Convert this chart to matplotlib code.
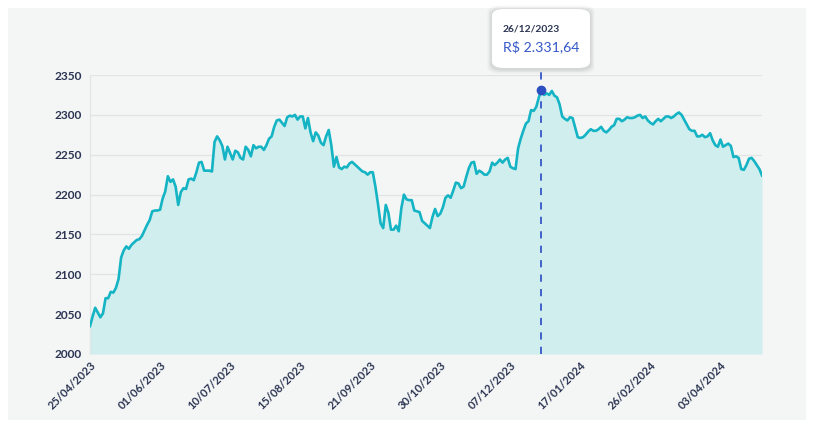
import matplotlib.pyplot as plt
from matplotlib.patches import FancyBboxPatch, Rectangle

# Valores de fechamento (um por pregão)
valores = [
    2035, 2047, 2058, 2052, 2046, 2051, 2070, 2070, 2078, 2077,
    2083, 2094, 2121, 2130, 2135, 2132, 2137, 2140, 2143, 2144,
    2148, 2155, 2162, 2168, 2179, 2180, 2180, 2181, 2195, 2204,
    2223, 2216, 2219, 2210, 2187, 2203, 2208, 2207, 2219, 2220,
    2218, 2228, 2240, 2241, 2230, 2230, 2230, 2229, 2266, 2273,
    2268, 2261, 2244, 2260, 2252, 2244, 2255, 2253, 2246, 2244,
    2260, 2256, 2248, 2262, 2258, 2260, 2260, 2256, 2262, 2270,
    2273, 2285, 2293, 2294, 2290, 2286, 2297, 2299, 2298, 2300,
    2294, 2298, 2298, 2283, 2296, 2278, 2267, 2278, 2274, 2265,
    2262, 2273, 2281, 2262, 2235, 2247, 2234, 2232, 2235, 2234,
    2239, 2241, 2238, 2235, 2232, 2229, 2228, 2225, 2228, 2228,
    2210, 2188, 2164, 2158, 2187, 2177, 2156, 2156, 2161, 2154,
    2183, 2200, 2194, 2193, 2193, 2180, 2179, 2178, 2167, 2164,
    2161, 2158, 2172, 2182, 2173, 2176, 2184, 2196, 2199, 2196,
    2205, 2215, 2214, 2208, 2210, 2222, 2233, 2240, 2241, 2226,
    2230, 2228, 2225, 2225, 2229, 2240, 2237, 2240, 2244, 2240,
    2244, 2246, 2235, 2233, 2232, 2258, 2270, 2280, 2289, 2292,
    2306, 2305, 2310, 2322, 2331.64, 2325, 2327, 2325, 2330, 2324,
    2322, 2313, 2298, 2295, 2293, 2297, 2296, 2284, 2272, 2271,
    2272, 2275, 2279, 2282, 2280, 2280, 2282, 2285, 2280, 2278,
    2281, 2285, 2287, 2295, 2295, 2292, 2294, 2297, 2296, 2296,
    2297, 2299, 2300, 2296, 2298, 2293, 2290, 2288, 2292, 2295,
    2292, 2295, 2298, 2298, 2296, 2298, 2301, 2303, 2300, 2294,
    2288, 2282, 2280, 2280, 2273, 2273, 2275, 2272, 2273, 2277,
    2268, 2262, 2260, 2269, 2260, 2262, 2264, 2261, 2247, 2248,
    2246, 2232, 2231, 2237, 2245, 2246, 2242, 2237, 2232, 2224,
]
rotulos_datas = ['25/04/2023', '01/06/2023', '10/07/2023', '15/08/2023', '21/09/2023',
                 '30/10/2023', '07/12/2023', '17/01/2024', '26/02/2024', '03/04/2024']
passo_rotulos = 27
indice_destaque = 174
data_destaque = '26/12/2023'

cor_linha = '#14b4c4'
cor_area = '#d0eeee'
cor_texto = '#2b3452'
cor_azul = '#3558c8'
fundo = '#f4f6f5'

fig = plt.figure(figsize=(8.14, 4.28), dpi=100, facecolor='white')
fig.patches.append(Rectangle((8 / 814, 8 / 428), 798 / 814, 412 / 428,
                             transform=fig.transFigure, facecolor=fundo,
                             edgecolor='none', zorder=-10))

ax = fig.add_axes([90 / 814, 74 / 428, 672 / 814, 279 / 428])
ax.set_facecolor(fundo)
ax.set_zorder(1)

x = list(range(len(valores)))
ax.fill_between(x, valores, 2000, color=cor_area, linewidth=0, zorder=2)
ax.plot(x, valores, color=cor_linha, linewidth=1.9, zorder=3)

ax.set_xlim(0, len(valores) - 1)
ax.set_ylim(2000, 2350)
ax.set_yticks(range(2000, 2351, 50))
ax.grid(axis='y', color='#e1e4e4', linewidth=0.9, zorder=1)
ax.set_axisbelow(True)

for lado in ['top', 'right', 'bottom']:
    ax.spines[lado].set_visible(False)
ax.spines['left'].set_color('#e3e6e6')
ax.spines['left'].set_linewidth(0.9)

ax.set_xticks(range(0, len(valores), passo_rotulos))
ax.set_xticklabels(rotulos_datas, rotation=45, ha='right', rotation_mode='anchor')
ax.tick_params(axis='both', length=0, colors=cor_texto, labelsize=8.6)
ax.tick_params(axis='x', pad=4, labelsize=8)
ax.tick_params(axis='y', pad=6)
for rotulo in ax.get_xticklabels() + ax.get_yticklabels():
    rotulo.set_fontfamily('Lato')
    rotulo.set_fontweight('bold')

# Linha tracejada e ponto destacado
ax.axvline(indice_destaque, ymin=0, ymax=(354 - 68) / 279, color=cor_azul,
           linestyle=(0, (4, 4)), linewidth=1.3, clip_on=False, zorder=4)
ax.plot([indice_destaque], [valores[indice_destaque]], 'o', color='#2c4fc2',
        markersize=6, zorder=5, clip_on=False)

# Tooltip com sombra suave
for i, a in enumerate([0.03, 0.04, 0.05]):
    d = (3 - i) * 1.5
    sombra = FancyBboxPatch(((492 - d) / 814, (360 - d - 1) / 428), (98 + 2 * d) / 814,
                            (59 + 2 * d) / 428,
                            boxstyle='round,pad=0,rounding_size=0.015',
                            transform=fig.transFigure, facecolor='#000000',
                            alpha=a, edgecolor='none', zorder=5)
    fig.patches.append(sombra)
caixa = FancyBboxPatch((492 / 814, 360 / 428), 98 / 814, 59 / 428,
                       boxstyle='round,pad=0,rounding_size=0.015',
                       transform=fig.transFigure, facecolor='white',
                       edgecolor='none', zorder=6)
fig.patches.append(caixa)

valor_txt = f"{valores[indice_destaque]:,.2f}".replace(',', 'X').replace('.', ',').replace('X', '.')
fig.text(503 / 814, (428 - 29) / 428, data_destaque, fontsize=7.4, fontweight='bold',
         color=cor_texto, family='Lato', va='center', zorder=7)
fig.text(503 / 814, (428 - 47) / 428, 'R$ ' + valor_txt, fontsize=10.2,
         color=cor_azul, family='Lato', va='center', zorder=7)

fig.savefig('out.png', dpi=100, facecolor='white')
